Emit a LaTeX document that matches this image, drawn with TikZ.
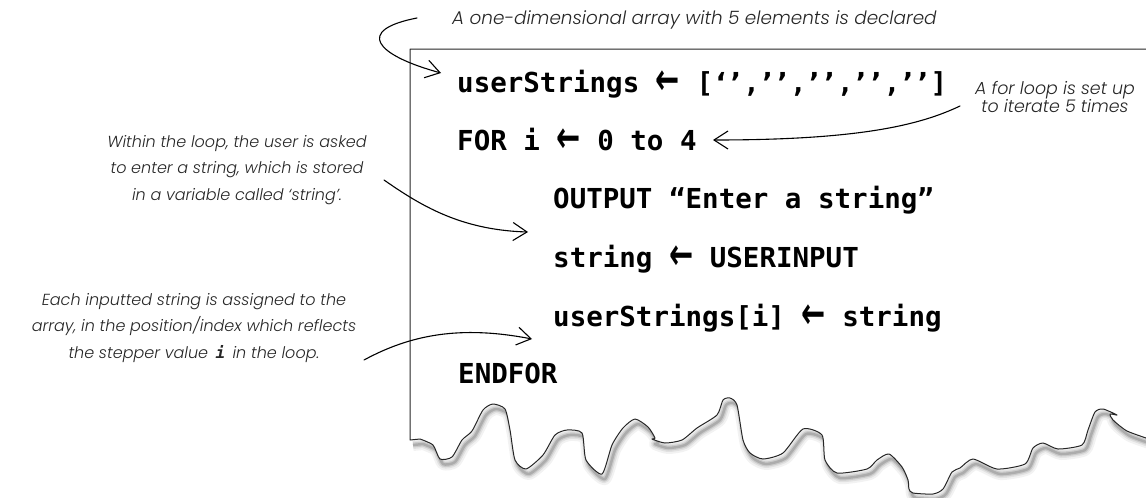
\documentclass[tikz,border=0pt]{standalone}
\usepackage{fontspec}
\usepackage{graphicx}
\setmainfont{Poppins}
\newfontfamily\codefont{DejaVu Sans Mono}
\newfontfamily\arrowfont{DejaVu Sans}
\newfontfamily\annfont{Poppins Light}[ItalicFont={Poppins Light Italic}]
\usetikzlibrary{arrows.meta}
\newcommand\larr{\raisebox{-0.1em}{\scalebox{1.05}[1.6]{\arrowfont\bfseries ←}}}
\newcommand\qq[1]{\makebox[0.55em]{\arrowfont\bfseries #1}}
\begin{document}
\begin{tikzpicture}[x=1pt,y=-1pt,
  code/.style={inner sep=0pt, anchor=base west, font=\codefont\bfseries\fontsize{27.5}{33}\selectfont},
  ann/.style={inner sep=0pt, align=center, text=black!85, font=\annfont\itshape\fontsize{16}{26.5}\selectfont},
  conn/.style={line width=1.1pt, line cap=round, -{Straight Barb[length=14pt,width=18pt]}},
  torn/.style={insert path={-- plot[smooth,tension=0.4] coordinates {(420,439) (433,445) (440,459) (452,457) (462,440) (472,431) (483,410) (493,404) (505,409) (510,430) (515,460) (526,469) (543,455) (555,435) (567,430) (582,433) (586,460) (602,474) (612,445) (623,428) (635,419) (648,427) (655,438) (652,439) (665,443) (682,440) (697,428) (717,415) (723,400) (730,398) (737,405) (743,440) (750,453) (763,459) (783,453) (803,429) (822,435) (825,460) (837,473) (867,469) (877,460) (889,454) (902,467) (908,480) (909,489) (913,493) (933,494) (943,489) (952,472) (960,468) (973,459) (997,469) (1025,464) (1033,448) (1043,443) (1058,449) (1082,445) (1088,430) (1095,412) (1103,409) (1117,415) (1110,414) (1113,420) (1127,431) (1152,440)}}}
]
\useasboundingbox (0,0) rectangle (1146,498);
% shadow of torn edge
\foreach \w/\o in {12/0.05, 8/0.07, 5/0.1, 2.5/0.15}{
  \draw[line width=\w pt, black, opacity=\o, line join=round, shift={(3,5)}] (410,440) [torn];
}
% paper
\fill[white] (1152,49) -- (410,49) -- (410,440) [torn] -- cycle;
\draw[line width=1pt, black!85, line join=round] (1152,49) -- (410,49) -- (410,440) [torn];

% code
\node[code] (c1) at (457,92) {userStrings \larr{} [\qq{‘}\qq{’},\qq{’}\qq{’},\qq{’}\qq{’},\qq{’}\qq{’},\qq{’}\qq{’}]};
\node[code] (c2) at (457,150) {FOR i \larr{} 0 to 4};
\node[code] (c3) at (553,208) {OUTPUT “Enter a string”};
\node[code] (c4) at (553,267) {string \larr{} USERINPUT};
\node[code] (c5) at (553,326) {userStrings[i] \larr{} string};
\node[code] (c6) at (458,383) {ENDFOR};

% annotations
\node[ann, anchor=west, font=\annfont\itshape\fontsize{18.4}{20}\selectfont] (aTop) at (452,20) {A one-dimensional array with 5 elements is declared};
\node[ann, font=\annfont\itshape\fontsize{17.4}{18.5}\selectfont] (aFor) at (1055,97) {A for loop is set up\\to iterate 5 times};
\node[ann] (aWithin) at (237,170) {Within the loop, the user is asked\\to enter a string, which is stored\\in a variable called ‘string’.};
\node[ann] (aEach) at (194,328) {Each inputted string is assigned to the\\array, in the position/index which reflects\\the stepper value {\codefont\bfseries\,i\,} in the loop.};

% connector end points
\coordinate (s1) at (417,18);
\coordinate (e1) at (441,73);
\coordinate (s2) at (960,106);
\coordinate (e2) at (713,140);
\coordinate (s3) at (384,180);
\coordinate (e3) at (528,232);
\coordinate (s4) at (364,360);
\coordinate (e4) at (532,339);

\draw[conn] (s1) .. controls (355,30) and (375,55) .. (e1);
\draw[conn] (s2) .. controls (920,125) and (860,140) .. (e2);
\draw[conn] (s3) .. controls (420,205) and (460,230) .. (e3);
\draw[conn] (s4) .. controls (410,335) and (460,325) .. (e4);
\end{tikzpicture}
\end{document}
